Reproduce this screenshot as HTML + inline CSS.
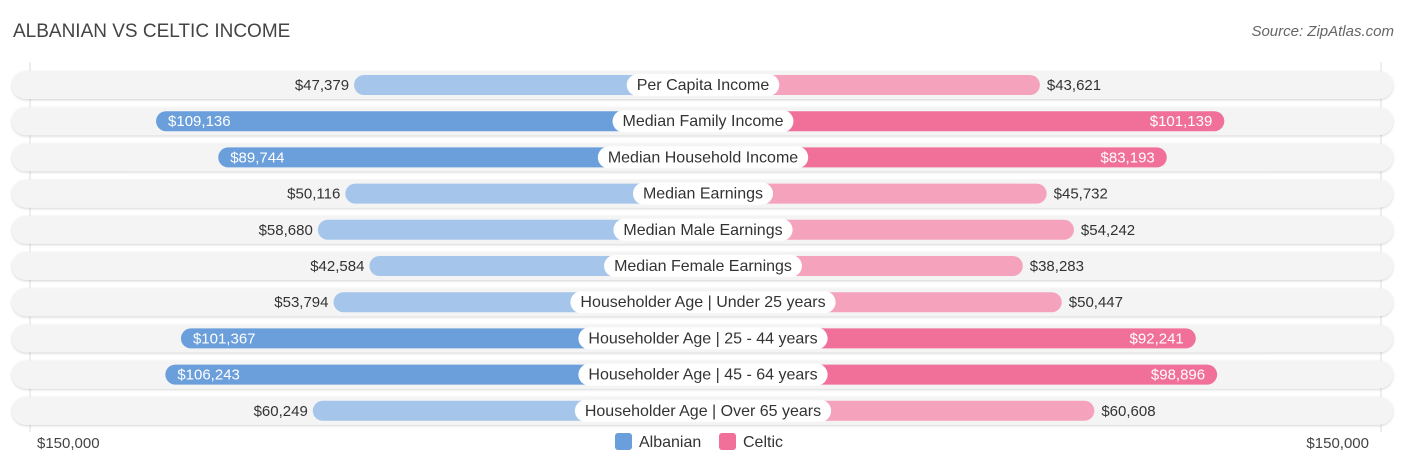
<!DOCTYPE html>
<html><head><meta charset="utf-8"><style>
body{margin:0;background:#fff;font-family:"Liberation Sans",sans-serif;}
#wrap{position:relative;width:1406px;height:467px;overflow:hidden;}
.t{position:absolute;white-space:nowrap;}
</style></head><body>
<div id="wrap">
<div class="t" style="left:13px;top:21px;font-size:19px;color:#444;">ALBANIAN VS CELTIC INCOME</div>
<div class="t" style="right:12px;top:23px;font-size:15px;color:#666;font-style:italic;">Source: ZipAtlas.com</div>
<svg id="svg" width="1406" height="467" style="position:absolute;left:0;top:0"></svg>
</div>
<script>
const categories=["Per Capita Income","Median Family Income","Median Household Income","Median Earnings","Median Male Earnings","Median Female Earnings","Householder Age | Under 25 years","Householder Age | 25 - 44 years","Householder Age | 45 - 64 years","Householder Age | Over 65 years"];
const albanian=[47379,109136,89744,50116,58680,42584,53794,101367,106243,60249];
const celtic=[43621,101139,83193,45732,54242,38283,50447,92241,98896,60608];
const axisMax=150000;
const axisLabels=["$150,000","$150,000"];
const NS="http://www.w3.org/2000/svg";
const svg=document.getElementById('svg');
const cx=703, off=197, scale=(678-off)/axisMax;
function xl(v){return cx-off-v*scale;}
function xr(v){return cx+off+v*scale;}
function rowY(i){return 85+i*36.2;}
function fmt(v){return "$"+v.toLocaleString("en-US");}
function el(tag,attrs){const e=document.createElementNS(NS,tag);for(const k in attrs)e.setAttribute(k,attrs[k]);svg.appendChild(e);return e;}
const defs=el('defs',{});
defs.innerHTML='<filter id="sh" x="-5%" y="-50%" width="110%" height="200%"><feDropShadow dx="0" dy="1" stdDeviation="1.2" flood-color="#000" flood-opacity="0.18"/></filter>';
const g1=el('line',{x1:30,y1:62,x2:30,y2:432,stroke:'#ddd','stroke-width':1});


const g2=el('line',{x1:1381,y1:62,x2:1381,y2:432,stroke:'#ddd','stroke-width':1});


const maxA=Math.max(...albanian), maxC=Math.max(...celtic);
categories.forEach((c,i)=>{
  const y=rowY(i);
  const bg=el('rect',{x:12,y:y-14,width:1381,height:28,rx:14,fill:'#f4f4f4',filter:'url(#sh)'});
  
  
  const a=albanian[i], b=celtic[i];
  const strongA=a>80000, strongB=b>80000;
  const ba=el('rect',{x:xl(a),y:y-10,width:cx-xl(a),height:20,rx:10,fill:strongA?'#6a9fdb':'#a5c5ea'});
  
  
  const bb=el('rect',{x:cx,y:y-10,width:xr(b)-cx,height:20,rx:10,fill:strongB?'#f07099':'#f5a2bd'});
  
  
  const ta=el('text',{y:y+5,'font-size':15,'font-family':'Liberation Sans, sans-serif'});
  ta.textContent=fmt(a);
  if(strongA){ta.setAttribute('x',xl(a)+12);ta.setAttribute('fill','#fff');}
  else{ta.setAttribute('x',xl(a)-5);ta.setAttribute('text-anchor','end');ta.setAttribute('fill','#333');}
  
  
  const tb=el('text',{y:y+5,'font-size':15,'font-family':'Liberation Sans, sans-serif'});
  tb.textContent=fmt(b);
  if(strongB){tb.setAttribute('x',xr(b)-12);tb.setAttribute('text-anchor','end');tb.setAttribute('fill','#fff');}
  else{tb.setAttribute('x',xr(b)+7);tb.setAttribute('fill','#333');}
  
  
  const lt=el('text',{x:cx,y:y+5,'text-anchor':'middle','font-size':16,fill:'#333','font-family':'Liberation Sans, sans-serif'});
  lt.textContent=c;
  const w=lt.getComputedTextLength()+20;
  const lb=el('rect',{x:cx-w/2,y:y-11,width:w,height:22,rx:11,fill:'#fff'});
  
  
  svg.appendChild(lt);
  
  
});
const al=el('text',{x:37,y:448,'font-size':15,fill:'#444','font-family':'Liberation Sans, sans-serif'});
al.textContent=axisLabels[0];


const ar=el('text',{x:1369,y:448,'text-anchor':'end','font-size':15,fill:'#444','font-family':'Liberation Sans, sans-serif'});
ar.textContent=axisLabels[1];


const l1=el('rect',{x:615,y:433,width:17,height:17,rx:3,fill:'#6a9fdb'});


const l1t=el('text',{x:639,y:447,'font-size':16,fill:'#333','font-family':'Liberation Sans, sans-serif'});
l1t.textContent='Albanian';


const l2=el('rect',{x:719,y:433,width:17,height:17,rx:3,fill:'#f07099'});


const l2t=el('text',{x:743,y:447,'font-size':16,fill:'#333','font-family':'Liberation Sans, sans-serif'});
l2t.textContent='Celtic';


</script>
</body></html>
